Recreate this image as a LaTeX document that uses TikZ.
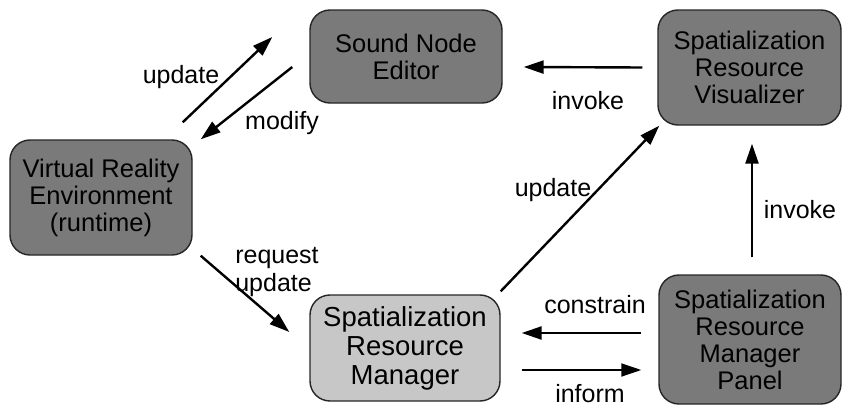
\documentclass[tikz,border=0pt]{standalone}
\usepackage{fontspec}
\setmainfont{Liberation Sans}
\usetikzlibrary{arrows.meta}

\begin{document}
\begin{tikzpicture}[x=0.5pt, y=-0.5pt,
    every node/.style={font=\fontsize{12.5}{14}\selectfont},
    block/.style={draw=black!85, line width=0.7pt, rounded corners=10pt,
        fill=black!52, align=center, inner sep=0pt,
        font=\fontsize{12.75}{13.5}\selectfont},
    lightblock/.style={block, fill=black!22,
        font=\fontsize{13.75}{14.5}\selectfont},
    flow/.style={-{Triangle[length=10pt,width=6.5pt]}, line width=1.2pt},
    lbl/.style={inner sep=1pt}]
    \useasboundingbox (0,0) rectangle (843,407);

    % Blöcke
    \node[block, minimum width=91pt, minimum height=57.5pt] (vre) at (101,197.5)
        {Virtual Reality\\Environment\\(runtime)};
    \node[block, minimum width=96pt, minimum height=46.5pt] (editor) at (406,56.5)
        {Sound Node\\Editor};
    \node[block, minimum width=91.5pt, minimum height=57.5pt] (visual) at (749.5,67.5)
        {Spatialization\\Resource\\Visualizer};
    \node[lightblock, minimum width=95pt, minimum height=53pt] (manager) at (405,348)
        {Spatialization\\Resource\\Manager};
    \node[block, minimum width=91pt, minimum height=64.5pt] (panel) at (750,339.5)
        {Spatialization\\Resource\\Manager\\Panel};

    % Pfeile oben links
    \draw[flow] ([shift={(-10,-17)}]vre.north east) -- ([shift={(-37,-19.5)}]editor.west)
        node[lbl, midway, shift={(-46.5,-3)}] {update};
    \draw[flow] ([shift={(-17,10.5)}]editor.west) -- ([shift={(8,0)}]vre.north east)
        node[lbl, midway, shift={(35.5,19.5)}] {modify};

    % Pfeile zum Visualizer
    \draw[flow] ([shift={(-15,0)}]visual.west) -- ([shift={(21,10.5)}]editor.east)
        node[lbl, midway, shift={(5,33)}] {invoke};
    \draw[flow] ([shift={(0,-3)}]manager.north east) -- ([shift={(2,0)}]visual.south west)
        node[lbl, midway, shift={(-27,-18.5)}] {update};
    \draw[flow] ([shift={(2,-17)}]panel.north) -- ([shift={(2.5,18)}]visual.south)
        node[lbl, midway, shift={(48,9.5)}] {invoke};

    % Pfeile zum Manager
    \draw[flow] ([shift={(8,0)}]vre.south east) -- ([shift={(-20,-16)}]manager.west)
        node[lbl, midway, align=left, shift={(32,-21.5)}] {request\\update};
    \draw[flow] ([shift={(-17,-6.5)}]panel.west) -- ([shift={(21,-15)}]manager.east)
        node[lbl, midway, shift={(13.5,-28)}] {constrain};
    \draw[flow, line width=0.9pt] ([shift={(21,22)}]manager.east) -- ([shift={(-17,30.5)}]panel.west)
        node[lbl, midway, shift={(8.5,24)}] {inform};
\end{tikzpicture}
\end{document}
